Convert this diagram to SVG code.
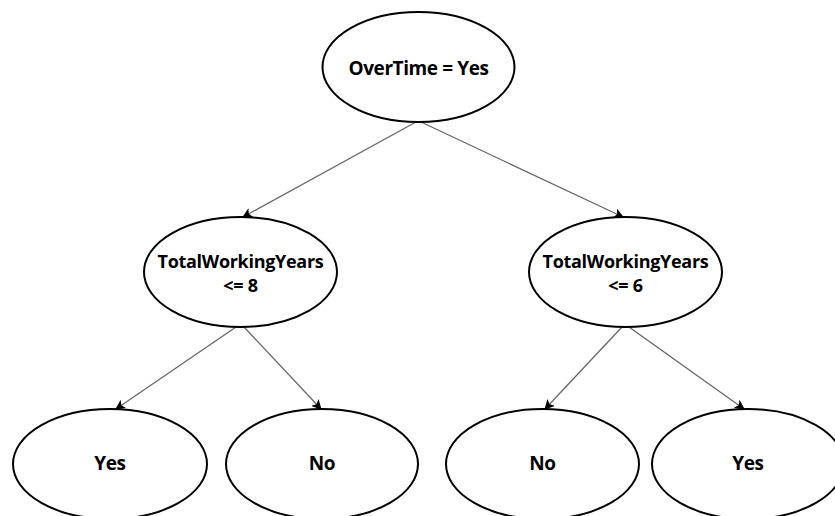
<svg xmlns="http://www.w3.org/2000/svg" width="835" height="516" viewBox="0 0 835 516">
<defs>
<style>
.node ellipse{fill:#fff;stroke:#000;stroke-width:2}
.node text{font-family:"Open Sans","DejaVu Sans",sans-serif;font-weight:bold;font-size:19px;letter-spacing:-0.4px;fill:#000;text-anchor:middle}
.node text.sm{font-size:18px;letter-spacing:-0.3px}
.edges line{stroke:#666;stroke-width:1.3;marker-end:url(#arr)}
</style>
<marker id="arr" viewBox="0 0 10 10" refX="9" refY="5" markerWidth="10" markerHeight="10" markerUnits="userSpaceOnUse" orient="auto">
<path d="M0,0 L10,5 L0,10 L2.5,5 Z" fill="#000"/>
</marker>
</defs>
<rect width="835" height="516" fill="#fff"/>
<g class="edges">
<line x1="416" y1="122" x2="243" y2="217"/>
<line x1="421" y1="122" x2="623" y2="217"/>
<line x1="236" y1="327" x2="116" y2="409"/>
<line x1="244" y1="327" x2="321" y2="409"/>
<line x1="622" y1="327" x2="545" y2="409"/>
<line x1="629" y1="327" x2="744" y2="409"/>
</g>
<g id="root" class="node"><ellipse cx="418.5" cy="67" rx="96" ry="55"/><text x="418.5" y="75">OverTime = Yes</text></g>
<g id="left" class="node"><ellipse cx="240.5" cy="272" rx="96.5" ry="55"/><text class="sm" x="240.5" y="268">TotalWorkingYears</text><text class="sm" x="240.5" y="292">&lt;= 8</text></g>
<g id="right" class="node"><ellipse cx="625.5" cy="272" rx="96.5" ry="55"/><text class="sm" x="625.5" y="268">TotalWorkingYears</text><text class="sm" x="625.5" y="292">&lt;= 6</text></g>
<g id="ll" class="node"><ellipse cx="110" cy="464" rx="97" ry="55"/><text x="110" y="470">Yes</text></g>
<g id="lr" class="node"><ellipse cx="322" cy="464" rx="96" ry="55"/><text x="322" y="470">No</text></g>
<g id="rl" class="node"><ellipse cx="542.5" cy="464" rx="96.5" ry="55"/><text x="542.5" y="470">No</text></g>
<g id="rr" class="node"><ellipse cx="748" cy="464" rx="96" ry="55"/><text x="748" y="470">Yes</text></g>
</svg>
